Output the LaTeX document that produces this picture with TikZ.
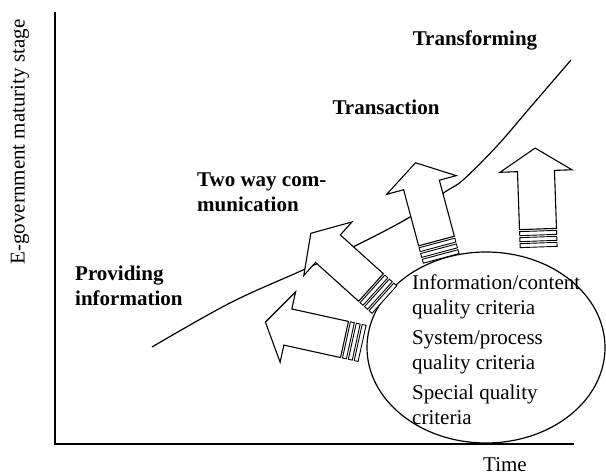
\documentclass[tikz,border=0pt]{standalone}
\usepackage{fontspec}
\setmainfont{Liberation Serif}
\tikzset{
    stagelabel/.style={
        inner sep=0pt, align=left, font=\fontsize{21}{25}\selectfont\bfseries
    },
    critlabel/.style={
        inner sep=0pt, align=left, font=\fontsize{21}{25}\selectfont
    },
    axislabel/.style={inner sep=0pt, font=\fontsize{21}{25}\selectfont},
    axisline/.style={draw=black, line width=1.5pt},
    maturity/.style={draw=black, line width=1.2pt},
    stripedarrow/.pic={
        \draw[line width=1.1pt, fill=white, line join=miter]
            (0,-18.5) -- (58,-18.5) -- (58,-36) -- (81,0) -- (58,36) -- (58,18.5) -- (0,18.5) -- cycle;
        \foreach \s in {2,8,14}
            \draw[line width=0.9pt, fill=white] (-\s,-18.5) rectangle (-\s-4,18.5);
    }
}
\begin{document}
\begin{tikzpicture}[x=1pt, y=-1pt]
\useasboundingbox (0,0) rectangle (606,475);

% Axes
\coordinate (ytop) at (55,12);
\coordinate (origin) at (55,444);
\coordinate (xend) at (574,444);
\draw[axisline] (ytop) -- (origin) -- (xend);
\node[axislabel, rotate=90] (ylabel) at (20,142) {E-government maturity stage};
\node[axislabel] (timelabel) at (505,465) {Time};

% Maturity curve
\draw[maturity] plot[smooth, tension=0.6] coordinates {
    (152,347) (230,303) (303,270) (353,247) (410,217) (445,192)
    (463,180) (497,146) (528,110) (571,60)};

% Stage labels
\node[stagelabel, anchor=north west] (providing) at (75,265.5) {Providing\\information};
\node[stagelabel, anchor=north west] (twoway) at (197,172.5) {Two way com-\\munication};
\node[stagelabel] (transaction) at (386,107) {Transaction};
\node[stagelabel, anchor=base] (transforming) at (475,45) {Transforming};

% Quality criteria
\draw[maturity] (486,347.5) ellipse [x radius=119, y radius=95.5];
\node[critlabel, anchor=north west] (criteria) at (412,274.5)
    {Information/content\\quality criteria\\[5pt]System/process\\quality criteria\\[5pt]Special quality\\criteria};

% Striped arrows
\pic[rotate=167.6] (inform) at (344.5,339.5) {stripedarrow};
\pic[rotate=138] (interact) at (371,287.5) {stripedarrow};
\pic[rotate=105] (transact) at (436.5,241) {stripedarrow};
\pic[rotate=92] (transform) at (538,229) {stripedarrow};

\end{tikzpicture}
\end{document}
